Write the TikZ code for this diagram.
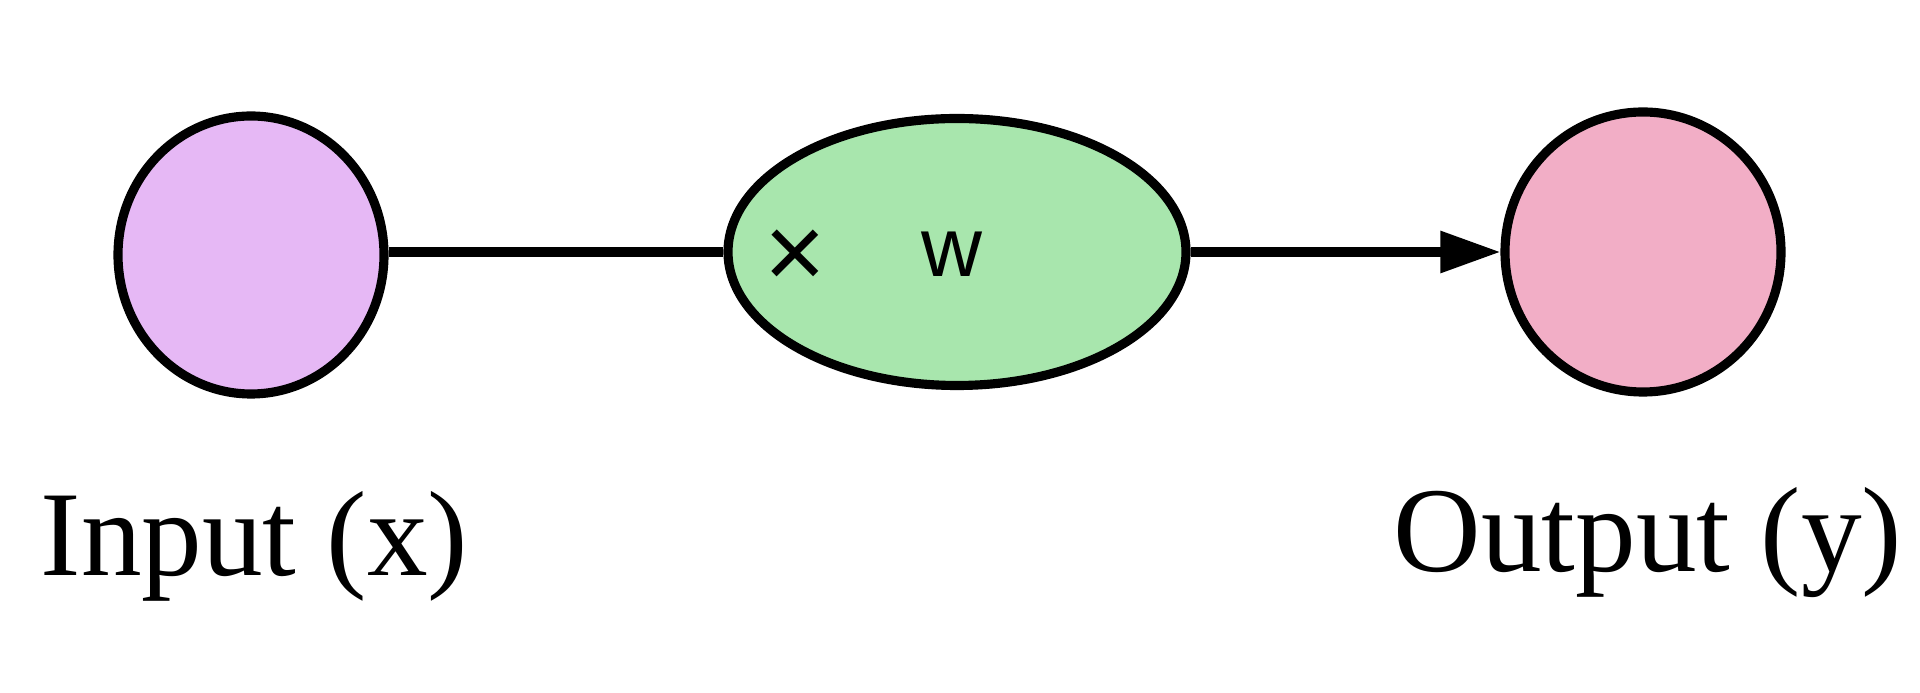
\documentclass[tikz,border=0pt]{standalone}
\usepackage{fontspec}
\setmainfont{Liberation Serif}
\newfontfamily\labelsans{Liberation Sans}
\usetikzlibrary{shapes.geometric,arrows.meta}
\definecolor{inputfill}{RGB}{230,184,245}
\definecolor{weightfill}{RGB}{168,230,173}
\definecolor{outputfill}{RGB}{242,174,198}
\begin{document}
\begin{tikzpicture}
  \tikzset{
    unit/.style={ellipse, draw=black, line width=2.6pt, inner sep=0pt},
    wire/.style={line width=2.6pt},
    caption/.style={font=\fontsize{34.5}{40}\selectfont, inner sep=0pt}
  }
  \useasboundingbox (0,0) rectangle (19.2,6.93);
  % neurons
  \node[unit, fill=inputfill, minimum width=2.66cm, minimum height=2.78cm] (in) at (2.51,4.38) {};
  \node[unit, fill=weightfill, minimum width=4.58cm, minimum height=2.67cm] (wt) at (9.57,4.41) {};
  \node[unit, fill=outputfill, minimum width=2.76cm, minimum height=2.80cm] (out) at (16.43,4.41) {};
  % weight symbols
  \node[font=\labelsans\fontsize{30}{34}\selectfont, inner sep=0pt] (times) at (7.95,4.34) {×};
  \node[font=\labelsans\fontsize{24}{28}\selectfont, inner sep=0pt] (wlabel) at (9.52,4.39) {w};
  % connections
  \draw[wire] (wt.west) -- (wt.west -| in.east);
  \draw[wire, -{Triangle[length=6mm, width=4mm]}] (wt.east) -- (out.west);
  % captions
  \node[caption, anchor=base west] (inlabel) at (0.40,1.17) {Input (x)};
  \node[caption, anchor=base west] (outlabel) at (13.93,1.21) {Output (y)};
\end{tikzpicture}
\end{document}
